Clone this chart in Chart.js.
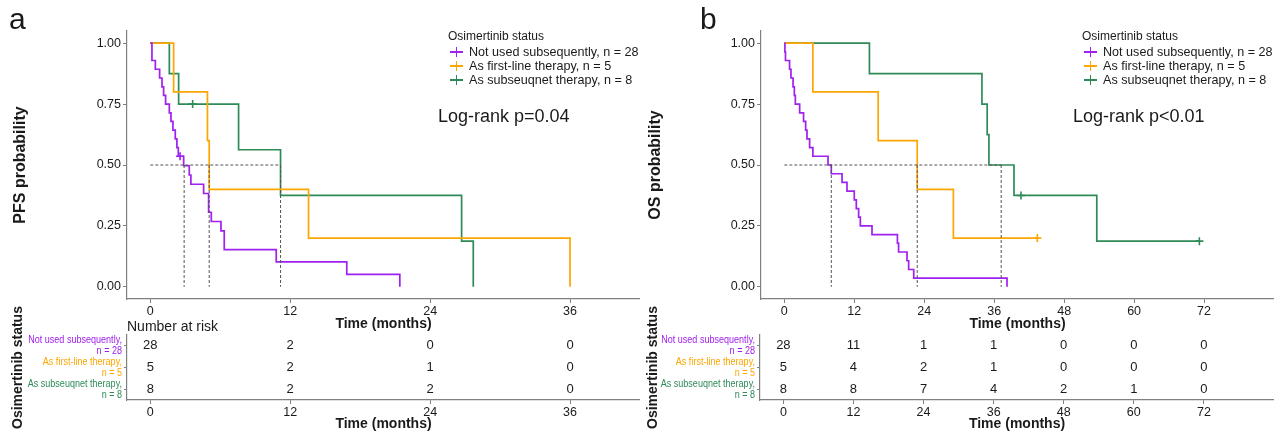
<!doctype html>
<html>
<head>
<meta charset="utf-8">
<title>Osimertinib status - PFS / OS</title>
<script src="https://cdn.jsdelivr.net/npm/chart.js@4.4.1/dist/chart.umd.min.js"></script>
<style>
body { margin: 0; background: #fff; font-family: 'Liberation Sans', Arial, sans-serif; }
#wrap { position: relative; width: 1274px; height: 433px; overflow: hidden; background: #fff; }
canvas { position: absolute; }
.txt { position: absolute; white-space: nowrap; color: #1a1a1a; line-height: 1; }
.cross { position: absolute; width: 13px; height: 1.6px; }
.cross::after { content: ''; position: absolute; left: 5.7px; top: -4.2px; width: 1.6px; height: 10px; background: inherit; }
</style>
</head>
<body>
<div id="wrap">
	<canvas id="kmA" width="640" height="335" style="left:0;top:0"></canvas>
	<canvas id="riskA" width="640" height="143" style="left:0;top:290px"></canvas>
	<canvas id="kmB" width="634" height="335" style="left:640px;top:0"></canvas>
	<canvas id="riskB" width="634" height="143" style="left:640px;top:290px"></canvas>

	<div class="txt" style="left:9px;top:4px;font-size:30px">a</div>
	<div class="txt" style="left:700px;top:4px;font-size:30px">b</div>
	<div class="txt" style="left:438px;top:107px;font-size:18px">Log-rank p=0.04</div>
	<div class="txt" style="left:1073px;top:107px;font-size:18px">Log-rank p&lt;0.01</div>
	<div class="txt" style="left:127px;top:319px;font-size:14px">Number at risk</div>
	<div id="legendA"></div>
	<div id="legendB"></div>
</div>

<script>
var FONT = "'Liberation Sans', Arial, sans-serif";
var INK = '#1a1a1a';
var AXIS = '#808080';

// groups
var groupNames = ['Not used subsequently', 'As first-line therapy', 'As subseuqnet therapy'];
var groupN = [28, 5, 8];
var groupColors = ['#A020F0', '#FFA500', '#2E8B57'];

// ---- a: PFS (time in months, survival after each step)
var pfsNotUsedT = [0, 0.14, 0.43, 0.8, 1.0, 1.14, 1.31, 1.63, 1.77, 1.94, 2.14, 2.28, 2.4, 2.86, 3.34, 3.48, 4.57, 5.0, 5.23, 6.06, 6.34, 10.8, 16.85, 21.4];
var pfsNotUsedS = [1, 0.929, 0.893, 0.857, 0.821, 0.786, 0.75, 0.714, 0.679, 0.643, 0.607, 0.571, 0.536, 0.497, 0.459, 0.421, 0.383, 0.306, 0.268, 0.23, 0.153, 0.102, 0.051, 0];
var pfsFirstLineT = [0, 2.0, 4.9, 5.05, 13.57, 36];
var pfsFirstLineS = [1, 0.8, 0.6, 0.4, 0.2, 0];
var pfsSubsequentT = [0, 1.63, 2.43, 7.57, 11.17, 26.7, 27.7];
var pfsSubsequentS = [1, 0.875, 0.75, 0.5625, 0.375, 0.1875, 0];
var pfsCensorT = [[2.55], [], [3.63]];
var pfsCensorS = [[0.536], [], [0.75]];
var pfsMedians = [2.9, 5.05, 11.17];
var pfsTicks = [0, 12, 24, 36];
var pfsRange = [-2, 42];
var pfsRiskTimes = [0, 12, 24, 36];
var pfsRiskNotUsed = [28, 2, 0, 0];
var pfsRiskFirstLine = [5, 2, 1, 0];
var pfsRiskSubsequent = [8, 2, 2, 0];

// ---- b: OS
var osNotUsedT = [0, 0.1, 0.2, 0.9, 1.14, 1.5, 1.72, 1.89, 2.63, 3.3, 3.66, 3.89, 4.34, 4.9, 7.5, 8.06, 9.9, 10.75, 12.0, 12.35, 12.75, 13.04, 15.04, 19.4, 19.6, 21.05, 21.33, 22.2, 38.2];
var osNotUsedS = [1, 0.964, 0.929, 0.893, 0.857, 0.821, 0.786, 0.75, 0.714, 0.679, 0.643, 0.607, 0.571, 0.536, 0.5, 0.464, 0.429, 0.393, 0.357, 0.321, 0.286, 0.25, 0.214, 0.179, 0.143, 0.107, 0.071, 0.036, 0];
var osFirstLineT = [0, 4.9, 16.1, 22.8, 29.0, 43.4];
var osFirstLineS = [1, 0.8, 0.6, 0.4, 0.2, 0.2];
var osSubsequentT = [0, 14.6, 33.9, 34.8, 35.1, 39.4, 53.6, 71.2];
var osSubsequentS = [1, 0.875, 0.75, 0.625, 0.5, 0.375, 0.1875, 0.1875];
var osCensorT = [[], [43.4], [40.6, 71.2]];
var osCensorS = [[], [0.2], [0.375, 0.1875]];
var osMedians = [8.06, 22.8, 37.2];
var osTicks = [0, 12, 24, 36, 48, 60, 72];
var osRange = [-4, 84];
var osRiskTimes = [0, 12, 24, 36, 48, 60, 72];
var osRiskNotUsed = [28, 11, 1, 1, 0, 0, 0];
var osRiskFirstLine = [5, 4, 2, 1, 0, 0, 0];
var osRiskSubsequent = [8, 8, 7, 4, 2, 1, 0];

var probTicks = [0, 0.25, 0.5, 0.75, 1];

function pts(t, s) {
	return t.map(function (v, i) { return { x: v, y: s[i] }; });
}

function axisBase(min, max, ticks, size) {
	return {
		type: 'linear', min: min, max: max,
		afterBuildTicks: function (s) { s.ticks = ticks.map(function (v) { return { value: v }; }); },
		grid: { display: true, drawOnChartArea: false, drawTicks: true, tickLength: 4, color: AXIS, lineWidth: 1 },
		border: { display: true, color: AXIS, width: 1.2 },
		ticks: { font: { family: FONT, size: size }, color: INK, padding: 1, maxRotation: 0, autoSkip: false }
	};
}

function xAxis(range, ticks, height, titlePadBottom) {
	var ax = axisBase(range[0], range[1], ticks, 12.5);
	ax.afterFit = function (s) { s.height = height; s.paddingLeft = 0; s.paddingRight = 0; };
	ax.title = { display: true, text: 'Time (months)', color: INK, font: { family: FONT, size: 14, weight: 'bold' }, padding: { top: 0, bottom: titlePadBottom } };
	return ax;
}

function makeKM(id, T, S, cT, cS, medians, ticks, range, yTitle, yW, titlePad) {
	var datasets = [];
	var mMax = Math.max.apply(null, medians);
	var dash = { type: 'line', borderColor: '#555', borderWidth: 1, borderDash: [3, 2], pointRadius: 0, fill: false };
	datasets.push(Object.assign({ data: [{ x: 0, y: 0.5 }, { x: mMax, y: 0.5 }] }, dash));
	medians.forEach(function (m) {
		datasets.push(Object.assign({ data: [{ x: m, y: 0.5 }, { x: m, y: 0 }] }, dash));
	});
	T.forEach(function (t, g) {
		datasets.push({ type: 'line', label: groupNames[g], data: pts(t, S[g]), borderColor: groupColors[g], borderWidth: 1.7, stepped: 'before', pointRadius: 0, fill: false });
	});
	cT.forEach(function (t, g) {
		datasets.push({ type: 'scatter', data: pts(t, cS[g]), pointStyle: 'cross', pointRadius: 4, borderColor: groupColors[g], borderWidth: 1.6 });
	});

	var y = axisBase(-0.05, 1.05, probTicks, 12.5);
	y.ticks.callback = function (v) { return v.toFixed(2); };
	y.ticks.padding = 2;
	y.afterFit = function (s) { s.width = yW; s.paddingTop = 0; s.paddingBottom = 0; };
	y.title = { display: true, text: yTitle, color: INK, font: { family: FONT, size: 16, weight: 'bold' }, padding: { top: titlePad, bottom: 0 } };

	return new Chart(document.getElementById(id), {
		type: 'line',
		data: { datasets: datasets },
		options: {
			responsive: false, animation: false, events: [],
			layout: { autoPadding: false, padding: { top: 31, left: 0, right: 0, bottom: 0 } },
			plugins: { legend: { display: false }, tooltip: { enabled: false } },
			scales: { x: xAxis(range, ticks, 36, 2.6), y: y }
		}
	});
}

// numbers at risk, drawn at the points placed by the scales
var riskText = {
	id: 'riskText',
	afterDatasetsDraw: function (chart) {
		var ctx = chart.ctx;
		ctx.save();
		ctx.font = '13px ' + FONT;
		ctx.fillStyle = INK;
		ctx.textAlign = 'center';
		ctx.textBaseline = 'middle';
		chart.data.datasets.forEach(function (ds, i) {
			chart.getDatasetMeta(i).data.forEach(function (p, j) {
				ctx.fillText(String(ds.data[j].n), p.x, p.y);
			});
		});
		ctx.restore();
	}
};

// condensed two-line group labels on the risk table's y axis
var rowLabels = {
	id: 'rowLabels',
	afterDraw: function (chart) {
		var sc = chart.scales.y, ctx = chart.ctx;
		ctx.save();
		ctx.font = '11.3px ' + FONT;
		ctx.textAlign = 'right';
		ctx.textBaseline = 'middle';
		groupNames.forEach(function (name, g) {
			ctx.save();
			ctx.translate(sc.right - 5, sc.getPixelForValue(g));
			ctx.scale(0.8, 1);
			ctx.fillStyle = groupColors[g];
			ctx.fillText(name + ',', 0, -5.5);
			ctx.fillText('n = ' + groupN[g], 0, 5.5);
			ctx.restore();
		});
		ctx.restore();
	}
};

function makeRisk(id, times, counts, ticks, range, yW, titlePad) {
	var datasets = counts.map(function (c, g) {
		return { type: 'scatter', pointRadius: 0, data: times.map(function (t, j) { return { x: t, y: g, n: c[j] }; }) };
	});
	var y = axisBase(-0.5, 2.5, [0, 1, 2], 11);
	y.reverse = true;
	y.grid.tickLength = 3;
	y.ticks.display = false;
	y.afterFit = function (s) { s.width = yW; s.paddingTop = 0; s.paddingBottom = 0; };
	y.title = { display: true, text: 'Osimertinib status', color: INK, font: { family: FONT, size: 14, weight: 'bold' }, padding: { top: titlePad, bottom: 0 } };

	return new Chart(document.getElementById(id), {
		type: 'scatter',
		data: { datasets: datasets },
		options: {
			responsive: false, animation: false, events: [],
			layout: { autoPadding: false, padding: { top: 45, left: 0, right: 0, bottom: 0 } },
			plugins: { legend: { display: false }, tooltip: { enabled: false } },
			scales: { x: xAxis(range, ticks, 33, 0), y: y }
		},
		plugins: [riskText, rowLabels]
	});
}

function makeLegend(id, left) {
	var box = document.getElementById(id);
	var html = '<div class="txt" style="left:' + left + 'px;top:30px;font-size:12px">Osimertinib status</div>';
	var rows = [52, 66, 80];
	groupNames.forEach(function (name, g) {
		html += '<span class="cross" style="left:' + (left + 2) + 'px;top:' + (rows[g] - 0.8) + 'px;background:' + groupColors[g] + '"></span>';
		html += '<div class="txt" style="left:' + (left + 21) + 'px;top:' + (rows[g] - 6.3) + 'px;font-size:12.6px">' + name + ', n = ' + groupN[g] + '</div>';
	});
	box.innerHTML = html;
}

makeKM('kmA', [pfsNotUsedT, pfsFirstLineT, pfsSubsequentT], [pfsNotUsedS, pfsFirstLineS, pfsSubsequentS],
	pfsCensorT, pfsCensorS, pfsMedians, pfsTicks, pfsRange, 'PFS probability', 127, 11);
makeKM('kmB', [osNotUsedT, osFirstLineT, osSubsequentT], [osNotUsedS, osFirstLineS, osSubsequentS],
	osCensorT, osCensorS, osMedians, osTicks, osRange, 'OS probability', 121, 6);
makeRisk('riskA', pfsRiskTimes, [pfsRiskNotUsed, pfsRiskFirstLine, pfsRiskSubsequent], pfsTicks, pfsRange, 127, 9.6);
makeRisk('riskB', osRiskTimes, [osRiskNotUsed, osRiskFirstLine, osRiskSubsequent], osTicks, osRange, 120, 4.6);
makeLegend('legendA', 448);
makeLegend('legendB', 1082);
</script>
</body>
</html>
